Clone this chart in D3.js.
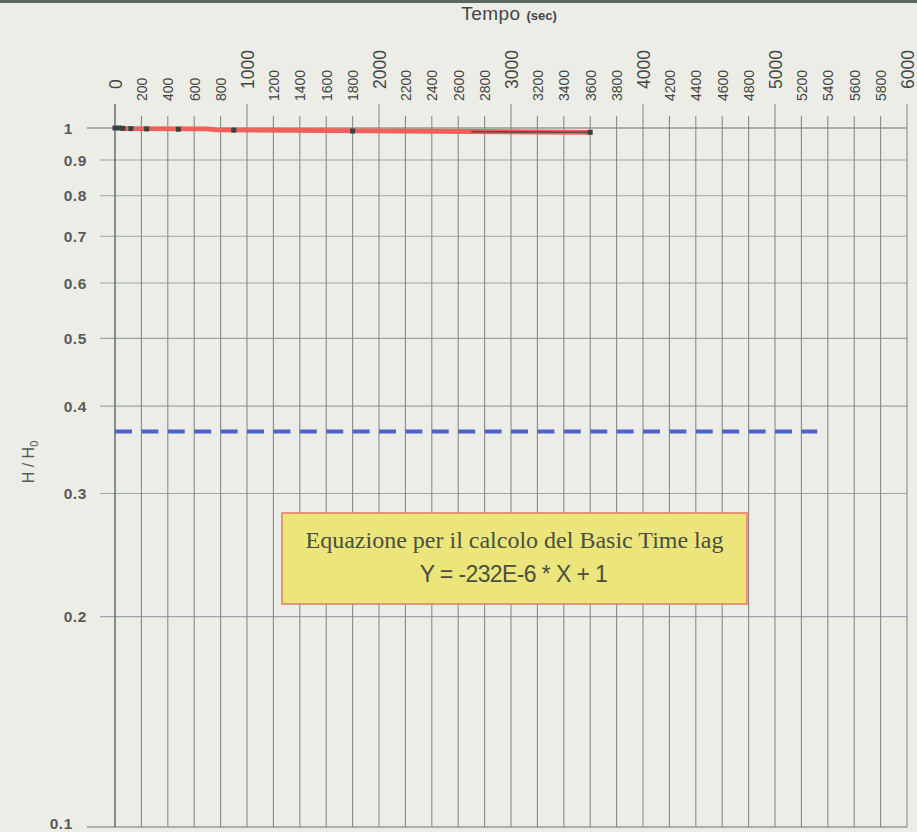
<!DOCTYPE html>
<html>
<head>
<meta charset="utf-8">
<script src="https://cdn.jsdelivr.net/npm/d3@7"></script>
<style>
  html, body { margin: 0; padding: 0; background: #ededE7; }
  svg { display: block; }
</style>
</head>
<body>
<svg id="chart" width="917" height="832"></svg>
<script>
// ---- data ----
const xTicks = d3.range(0, 6001, 200);
const yTicks = [1, 0.9, 0.8, 0.7, 0.6, 0.5, 0.4, 0.3, 0.2, 0.1];
const yTickLabels = ["1", "0.9", "0.8", "0.7", "0.6", "0.5", "0.4", "0.3", "0.2", "0.1"];
const obsTime = [0, 30, 60, 120, 240, 480, 900, 1800, 3600];
const obsValue = [1.0, 1.0, 0.999, 0.998, 0.997, 0.996, 0.993, 0.99, 0.986];
const fitTime = [40, 700, 760, 3600];
const fitValue = [0.998, 0.997, 0.994, 0.986];
const darkTime = [2700, 3600];
const darkValue = [0.988, 0.986];
const refTime = [0, 5320];
const refValue = [0.368, 0.368];
const xTitle = "Tempo";
const xTitleUnit = "(sec)";
const yTitle = "H / H";
const yTitleSub = "0";
const boxLine1 = "Equazione per il calcolo del Basic Time lag";
const boxLine2 = "Y = -232E-6 * X + 1";

// ---- scales ----
const svg = d3.select("#chart");
const x = d3.scaleLinear().domain([0, 6000]).range([115, 907]);
const y = d3.scaleLog().domain([0.1, 1]).range([827, 128]);

// background + scan strip
svg.append("rect").attr("width", 917).attr("height", 832).attr("fill", "#ededE7");
svg.append("rect").attr("width", 917).attr("height", 3).attr("fill", "#5b6660");

const isMajorX = d => d % 1000 === 0;
const isDecade = d => d === 1 || d === 0.1;

// horizontal grid lines + ticks
const hg = svg.append("g");
yTicks.forEach(v => {
  hg.append("line")
    .attr("x1", isDecade(v) ? 87 : 100).attr("x2", x(6000))
    .attr("y1", y(v)).attr("y2", y(v))
    .attr("stroke", isDecade(v) ? "#6c746f" : "#9aa6ad")
    .attr("stroke-width", 1.1);
});

// vertical grid lines + ticks
const vg = svg.append("g");
xTicks.forEach(t => {
  vg.append("line")
    .attr("x1", x(t)).attr("x2", x(t))
    .attr("y1", isMajorX(t) ? 104 : 116).attr("y2", y(0.1))
    .attr("stroke", t === 0 ? "#5d6661" : "#858b87")
    .attr("stroke-width", t === 0 ? 1.4 : 1.1);
});

// top axis labels (rotated)
const xAxis = d3.axisTop(x).tickValues(xTicks).tickSize(0).tickFormat(d3.format("d"));
const gx = svg.append("g").call(xAxis);
gx.select(".domain").remove();
gx.selectAll(".tick").each(function(d) {
  const major = isMajorX(d);
  d3.select(this).select("text")
    .attr("x", 0).attr("y", 0)
    .attr("text-anchor", "start")
    .attr("transform", `translate(0,${major ? 89 : 101}) rotate(-90)`)
    .attr("dy", "0.36em")
    .attr("font-family", "Liberation Sans, Arial, sans-serif")
    .attr("font-size", major ? 17.5 : 14)
    .attr("fill", "#454545");
});

// left axis labels
const ya = svg.append("g");
yTicks.forEach((v, i) => {
  ya.append("text")
    .attr("x", isDecade(v) ? 73 : 87)
    .attr("y", y(v))
    .attr("dy", v === 0.1 ? "0.1em" : "0.36em")
    .attr("text-anchor", "end")
    .attr("font-family", "Liberation Sans, Arial, sans-serif")
    .attr("font-size", 15.5)
    .attr("font-weight", "bold")
    .attr("letter-spacing", 0.6)
    .attr("fill", "#5a5a5a")
    .text(yTickLabels[i]);
});

// axis titles
const xt = svg.append("text")
  .attr("x", 509).attr("y", 20)
  .attr("text-anchor", "middle")
  .attr("font-family", "Liberation Sans, Arial, sans-serif")
  .attr("fill", "#454545");
xt.append("tspan").attr("font-size", 19).attr("letter-spacing", 0.5).text(xTitle + " ");
xt.append("tspan").attr("font-size", 13).attr("font-weight", "bold").text(xTitleUnit);

const yt = svg.append("text")
  .attr("transform", `translate(34,462) rotate(-90)`)
  .attr("text-anchor", "middle")
  .attr("font-family", "Liberation Sans, Arial, sans-serif")
  .attr("fill", "#5a5a5a")
  .attr("font-size", 16);
yt.append("tspan").text(yTitle);
yt.append("tspan").attr("font-size", 11).attr("dy", 4).text(yTitleSub);

// reference dashed line
const line = d3.line().x(d => x(d[0])).y(d => y(d[1]));
svg.append("path")
  .datum(d3.zip(refTime, refValue))
  .attr("d", line)
  .attr("fill", "none")
  .attr("stroke", "#4f62cc")
  .attr("stroke-width", 4)
  .attr("stroke-dasharray", "17,9.4");

// fitted red line
svg.append("path")
  .datum(d3.zip(fitTime, fitValue))
  .attr("d", line)
  .attr("fill", "none")
  .attr("stroke", "#ef5f5c")
  .attr("stroke-width", 4.8);

// dark overlay line
svg.append("path")
  .datum(d3.zip(darkTime, darkValue))
  .attr("d", line)
  .attr("fill", "none")
  .attr("stroke", "#3d4642")
  .attr("stroke-width", 1.6)
  .attr("opacity", 0.8);

// early dark segment
svg.append("path")
  .datum(d3.zip(obsTime.slice(0, 3), obsValue.slice(0, 3)))
  .attr("d", line)
  .attr("fill", "none")
  .attr("stroke", "#3d4642")
  .attr("stroke-width", 3);

// observed points
svg.append("g").selectAll("rect")
  .data(d3.zip(obsTime, obsValue))
  .join("rect")
  .attr("x", d => x(d[0]) - 2.5)
  .attr("y", d => y(d[1]) - 2.5)
  .attr("width", 5).attr("height", 5)
  .attr("fill", "#3a423e");

// equation box
const bx = 282, by = 513, bw = 465, bh = 91;
svg.append("rect")
  .attr("x", bx).attr("y", by).attr("width", bw).attr("height", bh)
  .attr("fill", "#ebe57c")
  .attr("stroke", "#e67d68").attr("stroke-width", 1.6);
svg.append("text")
  .attr("x", bx + bw / 2).attr("y", by + 35)
  .attr("text-anchor", "middle")
  .attr("font-family", "Liberation Serif, Times New Roman, serif")
  .attr("font-size", 24)
  .attr("fill", "#4a4f3e")
  .text(boxLine1);
svg.append("text")
  .attr("x", bx + bw / 2 - 1).attr("y", by + 69)
  .attr("text-anchor", "middle")
  .attr("font-family", "Liberation Sans, Arial, sans-serif")
  .attr("font-size", 23)
  .attr("letter-spacing", -0.6)
  .attr("fill", "#4a4f3e")
  .text(boxLine2);
</script>
</body>
</html>
